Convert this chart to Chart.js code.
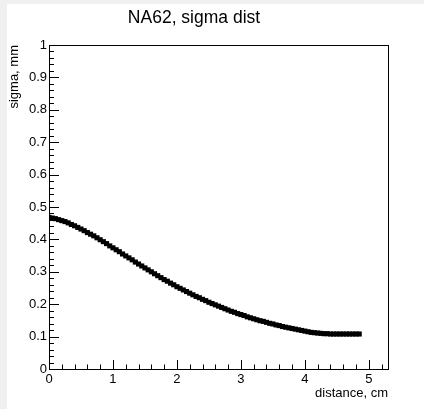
<!DOCTYPE html>
<html>
<head>
<meta charset="utf-8">
<title>NA62, sigma dist</title>
<script src="https://cdn.jsdelivr.net/npm/chart.js@4/dist/chart.umd.min.js"></script>
<style>
  body { margin: 0; background: #f0f0f0; }
  #sigmaChart { display: block; }
</style>
</head>
<body>
<canvas id="sigmaChart" width="424" height="409"></canvas>
<script>
// values
const distance = [
  0.00, 0.05, 0.10, 0.15, 0.20, 0.25, 0.30, 0.35, 0.40, 0.45,
  0.50, 0.55, 0.60, 0.65, 0.70, 0.75, 0.80, 0.85, 0.90, 0.95,
  1.00, 1.05, 1.10, 1.15, 1.20, 1.25, 1.30, 1.35, 1.40, 1.45,
  1.50, 1.55, 1.60, 1.65, 1.70, 1.75, 1.80, 1.85, 1.90, 1.95,
  2.00, 2.05, 2.10, 2.15, 2.20, 2.25, 2.30, 2.35, 2.40, 2.45,
  2.50, 2.55, 2.60, 2.65, 2.70, 2.75, 2.80, 2.85, 2.90, 2.95,
  3.00, 3.05, 3.10, 3.15, 3.20, 3.25, 3.30, 3.35, 3.40, 3.45,
  3.50, 3.55, 3.60, 3.65, 3.70, 3.75, 3.80, 3.85, 3.90, 3.95,
  4.00, 4.05, 4.10, 4.15, 4.20, 4.25, 4.30, 4.35, 4.40, 4.45,
  4.50, 4.55, 4.60, 4.65, 4.70, 4.75, 4.80, 4.85
];
const sigma = [
  0.468, 0.466, 0.464, 0.461, 0.458, 0.455, 0.451, 0.446, 0.442, 0.437,
  0.432, 0.427, 0.421, 0.416, 0.411, 0.405, 0.399, 0.393, 0.387, 0.380,
  0.374, 0.368, 0.362, 0.355, 0.349, 0.343, 0.337, 0.330, 0.324, 0.318,
  0.312, 0.306, 0.300, 0.294, 0.288, 0.282, 0.276, 0.271, 0.265, 0.260,
  0.254, 0.249, 0.244, 0.239, 0.234, 0.229, 0.224, 0.220, 0.215, 0.211,
  0.206, 0.202, 0.198, 0.194, 0.190, 0.186, 0.182, 0.178, 0.175, 0.171,
  0.168, 0.165, 0.161, 0.158, 0.155, 0.152, 0.149, 0.147, 0.144, 0.141,
  0.139, 0.136, 0.134, 0.131, 0.129, 0.127, 0.125, 0.123, 0.121, 0.119,
  0.117, 0.115, 0.113, 0.112, 0.111, 0.110, 0.109, 0.109, 0.108, 0.108,
  0.108, 0.108, 0.108, 0.108, 0.108, 0.108, 0.108, 0.108
];
const xRange = [0, 5.3];
const yRange = [0, 1];
const xMajor = 1, xMinor = 0.2;
const yMajor = 0.1, yMinor = 0.02;

const font = "'Liberation Sans', Arial, Helvetica, sans-serif";

// gray page edge + white pad, like the ROOT canvas
const padBackground = {
  id: 'padBackground',
  beforeDraw(chart) {
    const ctx = chart.ctx;
    ctx.save();
    ctx.fillStyle = '#f0f0f0';
    ctx.fillRect(0, 0, chart.width, chart.height);
    ctx.fillStyle = '#ffffff';
    ctx.fillRect(7, 4, chart.width - 7, chart.height - 4);
    ctx.restore();
  }
};

// ROOT style frame with inward major/minor ticks
const rootFrame = {
  id: 'rootFrame',
  afterDraw(chart) {
    const ctx = chart.ctx;
    const a = chart.chartArea;
    const xs = chart.scales.x, ys = chart.scales.y;
    ctx.save();
    ctx.strokeStyle = '#000';
    ctx.lineWidth = 1;
    ctx.strokeRect(Math.round(a.left) + 0.5, Math.round(a.top) + 0.5,
      Math.round(a.right - a.left), Math.round(a.bottom - a.top));
    ctx.beginPath();
    const nx = Math.round((xRange[1] - xRange[0]) / xMinor);
    for (let i = 0; i <= nx; i++) {
      const v = xRange[0] + i * xMinor;
      const px = Math.round(xs.getPixelForValue(v)) + 0.5;
      const len = (i % Math.round(xMajor / xMinor) === 0) ? 9 : 4.5;
      ctx.moveTo(px, a.bottom);
      ctx.lineTo(px, a.bottom - len);
    }
    const ny = Math.round((yRange[1] - yRange[0]) / yMinor);
    for (let i = 0; i <= ny; i++) {
      const v = yRange[0] + i * yMinor;
      const py = Math.round(ys.getPixelForValue(v)) + 0.5;
      const len = (i % Math.round(yMajor / yMinor) === 0) ? 10 : 5;
      ctx.moveTo(a.left, py);
      ctx.lineTo(a.left + len, py);
    }
    ctx.stroke();
    ctx.restore();
  }
};

new Chart(document.getElementById('sigmaChart'), {
  type: 'scatter',
  data: {
    datasets: [{
      data: distance.map((d, i) => ({ x: d, y: sigma[i] })),
      pointStyle: 'rect',
      pointRadius: 3.6,
      pointHoverRadius: 3.6,
      backgroundColor: '#000',
      borderWidth: 0,
      showLine: false
    }]
  },
  options: {
    responsive: false,
    animation: false,
    devicePixelRatio: 1,
    events: [],
    layout: { padding: { left: 0, right: 36, top: 0, bottom: 0 } },
    plugins: {
      legend: { display: false },
      tooltip: { enabled: false },
      title: {
        display: true,
        text: 'NA62, sigma dist',
        color: '#000',
        font: { family: font, size: 17.5, weight: 'normal' },
        padding: { top: 8, bottom: 16 }
      }
    },
    scales: {
      x: {
        type: 'linear',
        min: xRange[0],
        max: xRange[1],
        grid: { display: false, drawTicks: false },
        border: { display: false },
        ticks: {
          stepSize: xMajor,
          includeBounds: false,
          padding: 3,
          maxRotation: 0,
          color: '#000',
          font: { family: font, size: 13 }
        },
        title: {
          display: true,
          text: 'distance, cm',
          align: 'end',
          color: '#000',
          font: { family: font, size: 13 },
          padding: { top: 0, bottom: 8 }
        },
        afterFit(scale) { scale.height = 40; }
      },
      y: {
        type: 'linear',
        min: yRange[0],
        max: yRange[1],
        grid: { display: false, drawTicks: false },
        border: { display: false },
        ticks: {
          stepSize: yMajor,
          padding: 2,
          color: '#000',
          font: { family: font, size: 13 },
          callback: (v) => String(Number(v.toFixed(2)))
        },
        title: {
          display: true,
          text: 'sigma, mm',
          align: 'end',
          color: '#000',
          font: { family: font, size: 13 },
          padding: { top: 7, bottom: 0 }
        },
        afterFit(scale) { scale.width = 49; }
      }
    }
  },
  plugins: [padBackground, rootFrame]
});
</script>
</body>
</html>
